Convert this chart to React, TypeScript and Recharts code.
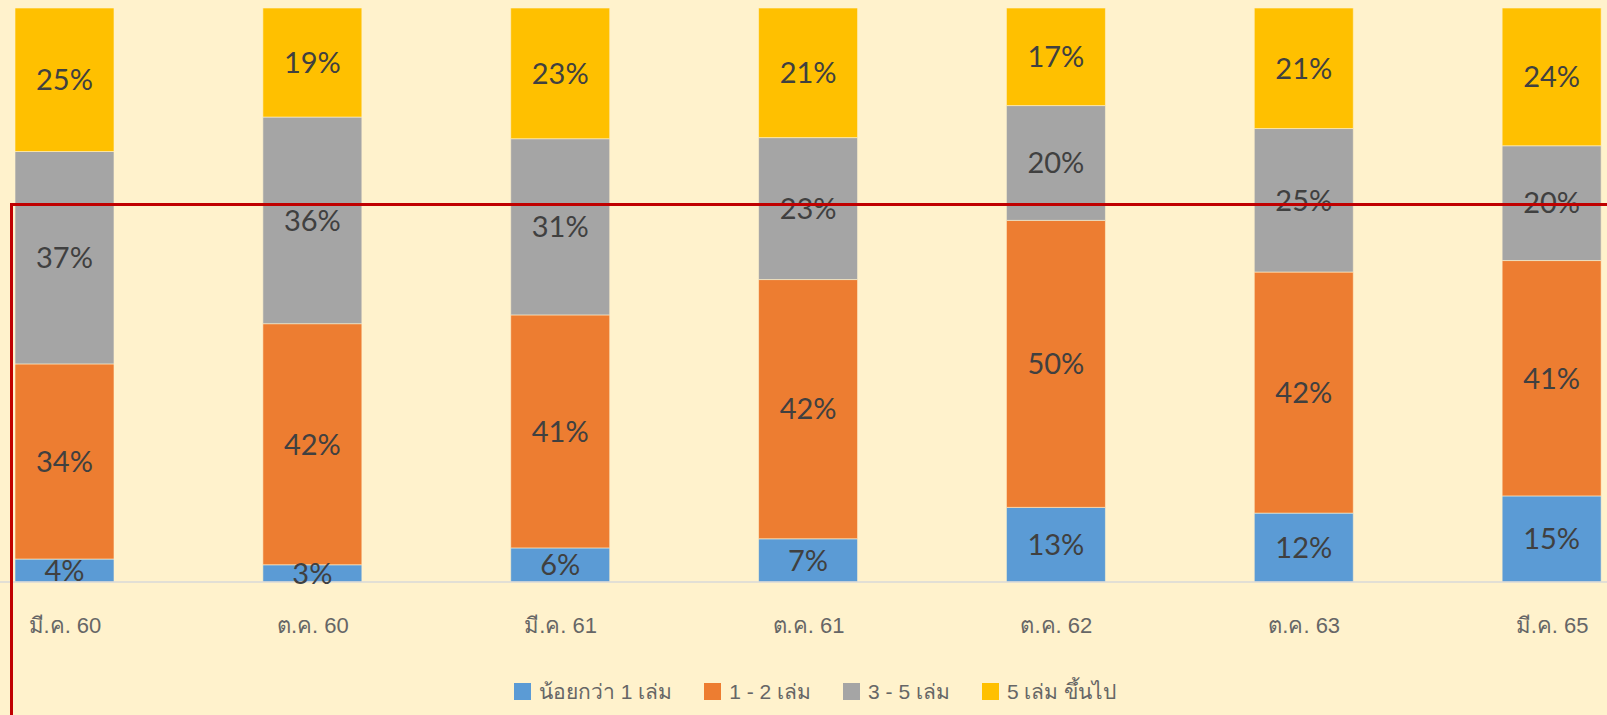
import React from "react";
import { Bar, BarChart, LabelList, Legend, XAxis, YAxis } from "recharts";

const categories = ["มี.ค. 60", "ต.ค. 60", "มี.ค. 61", "ต.ค. 61", "ต.ค. 62", "ต.ค. 63", "มี.ค. 65"];
const lessThanOne = [4, 3, 6, 7, 13, 12, 15];
const oneToTwo = [34, 42, 41, 42, 50, 42, 41];
const threeToFive = [37, 36, 31, 23, 20, 25, 20];
const fivePlus = [25, 19, 23, 21, 17, 21, 24];

const SERIES = [
    { key: "lessThanOne", name: "น้อยกว่า 1 เล่ม", color: "#5B9BD5" },
    { key: "oneToTwo", name: "1 - 2 เล่ม", color: "#ED7D31" },
    { key: "threeToFive", name: "3 - 5 เล่ม", color: "#A5A5A5" },
    { key: "fivePlus", name: "5 เล่ม ขึ้นไป", color: "#FFC000" },
];

const data = categories.map((name, i) => ({
    name,
    lessThanOne: lessThanOne[i],
    oneToTwo: oneToTwo[i],
    threeToFive: threeToFive[i],
    fivePlus: fivePlus[i],
}));

const TICK_FONT = "'Liberation Sans', 'Noto Sans', sans-serif";
const LEGEND_FONT = "'Liberation Sans Narrow', 'Liberation Sans', sans-serif";

const Tick = (props: any) => {
    const { x, y, payload } = props;
    return (
        <text
            x={x}
            y={y + 51}
            textAnchor="middle"
            fill="#666666"
            fontSize={22}
            fontFamily={TICK_FONT}
        >
            {payload.value}
        </text>
    );
};

const LegendContent = () => (
    <div
        style={{
            height: 48,
            display: "flex",
            alignItems: "center",
            justifyContent: "center",
            gap: 32,
            paddingLeft: 14,
            fontFamily: LEGEND_FONT,
            fontSize: 21,
            color: "#666666",
        }}
    >
        {SERIES.map((s) => (
            <div key={s.key} style={{ display: "flex", alignItems: "center", gap: 8 }}>
                <span style={{ width: 17, height: 17, background: s.color, display: "inline-block" }} />
                <span>{s.name}</span>
            </div>
        ))}
    </div>
);

export default function App() {
    return (
        <div
            style={{
                position: "fixed",
                left: 0,
                top: 0,
                width: 1607,
                height: 715,
                overflow: "hidden",
                background: "#FFF2CC",
            }}
        >
            <div style={{ position: "absolute", left: -59.4, top: 0 }}>
                <BarChart
                    width={1735}
                    height={715}
                    data={data}
                    stackOffset="expand"
                    margin={{ top: 8, right: 0, bottom: 0, left: 0 }}
                    barSize={99}
                >
                    <XAxis
                        dataKey="name"
                        tickLine={false}
                        tickSize={0}
                        tickMargin={0}
                        height={85}
                        axisLine={{ stroke: "#D9D9D9", strokeWidth: 1.5 }}
                        tick={<Tick />}
                        interval={0}
                    />
                    <YAxis hide domain={[0, 1]} />
                    <Legend verticalAlign="bottom" height={48} content={<LegendContent />} />
                    {SERIES.map((s) => (
                        <Bar
                            key={s.key}
                            dataKey={s.key}
                            name={s.name}
                            stackId="a"
                            fill={s.color}
                            stroke="#FFF2CC"
                            strokeWidth={0.6}
                            isAnimationActive={false}
                        >
                            <LabelList
                                dataKey={s.key}
                                position="center"
                                formatter={(v: any) => `${v}%`}
                                fill="#404040"
                                fontSize={29}
                                fontFamily="Lato, sans-serif"
                            />
                        </Bar>
                    ))}
                </BarChart>
            </div>
            <div
                style={{
                    position: "absolute",
                    left: 10,
                    top: 203,
                    width: 2000,
                    height: 1000,
                    borderLeft: "3px solid #C00000",
                    borderTop: "3px solid #C00000",
                    pointerEvents: "none",
                }}
            />
        </div>
    );
}
